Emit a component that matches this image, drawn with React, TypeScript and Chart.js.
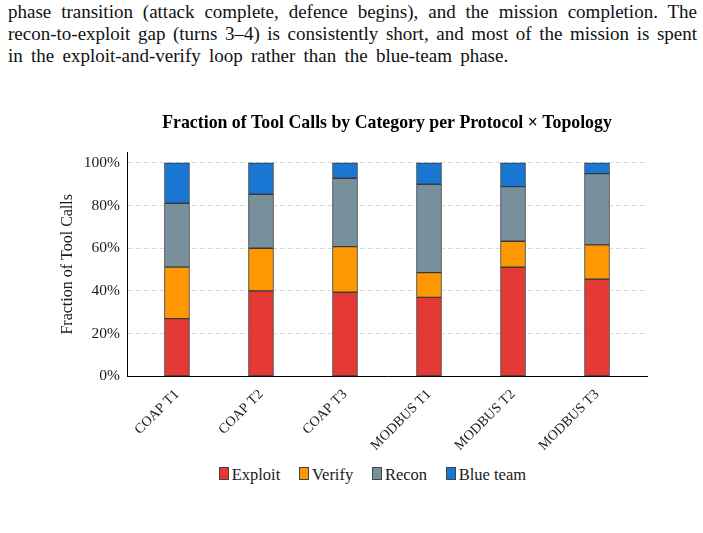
import React, { useEffect, useRef } from "react";
import { Chart, registerables } from "chart.js";

Chart.register(...registerables);

const categories = ["COAP T1", "COAP T2", "COAP T3", "MODBUS T1", "MODBUS T2", "MODBUS T3"];
const exploit = [27, 40, 39.4, 37, 51.1, 45.5];
const verify = [24.2, 20, 21.4, 11.6, 12.2, 16.1];
const recon = [29.9, 25.3, 32, 41.4, 25.6, 33.4];
const blueTeam = [18.9, 14.7, 7.2, 10, 11.1, 5];
const seriesNames = ["Exploit", "Verify", "Recon", "Blue team"];
const seriesColors = ["#E53935", "#FF9800", "#78909C", "#1976D2"];
const yTicks = [0, 20, 40, 60, 80, 100];

const paragraphLines = [
  "phase transition (attack complete, defence begins), and the mission completion. The",
  "recon-to-exploit gap (turns 3\u20134) is consistently short, and most of the mission is spent",
  "in the exploit-and-verify loop rather than the blue-team phase.",
];

const titleText = "Fraction of Tool Calls by Category per Protocol \u00d7 Topology";
const yTitle = "Fraction of Tool Calls";

const FAMILY = "'Liberation Serif', 'Times New Roman', serif";
const TEXT = "#1a1a1a";

export default function App() {
  const ref = useRef<HTMLCanvasElement>(null);

  useEffect(() => {
    const series = [exploit, verify, recon, blueTeam];
    const datasets = series.map((vals, k) => ({
      label: seriesNames[k],
      data: vals.map((v, i) => ({ x: i, y: v })),
      backgroundColor: seriesColors[k],
      borderColor: "#3a3a3a",
      borderWidth: 1,
      borderSkipped: false as const,
      barThickness: 25,
    }));
    const chart = new Chart(ref.current as HTMLCanvasElement, {
      type: "bar",
      data: { datasets } as any,
      options: {
        animation: false,
        responsive: false,
        devicePixelRatio: 1,
        layout: { padding: { left: 0, right: 56, top: 0, bottom: 0 } },
        plugins: {
          legend: { display: false },
          tooltip: { enabled: false },
          title: {
            display: true,
            text: titleText,
            fullSize: false,
            color: "#000",
            font: { family: FAMILY, size: 17.8, weight: "bold", lineHeight: 1.2 },
            padding: { top: 22.3, bottom: 18.6 },
          },
        },
        scales: {
          x: {
            type: "linear",
            min: -0.595,
            max: 5.595,
            offset: false,
            stacked: true,
            grid: { display: false, offset: false },
            border: { display: true, color: "#000", width: 1 },
            ticks: {
              autoSkip: false,
              minRotation: 45,
              maxRotation: 45,
              padding: 2,
              color: TEXT,
              font: { family: FAMILY, size: 14 },
              callback: (v: any) => categories[Number(v)] ?? "",
            },
            afterBuildTicks: (s: any) => {
              s.ticks = categories.map((_, i) => ({ value: i }));
            },
            afterFit: (s: any) => {
              s.height = 83.7;
            },
          },
          y: {
            min: 0,
            max: 105,
            stacked: true,
            grid: { color: "#d9d9d9", lineWidth: 1, drawTicks: false },
            border: { display: true, color: "#000", width: 1, dash: [5, 3] },
            ticks: {
              padding: 7,
              color: TEXT,
              font: { family: FAMILY, size: 15.5 },
              callback: (v: any) => `${v}%`,
            },
            afterBuildTicks: (s: any) => {
              s.ticks = yTicks.map((v) => ({ value: v }));
            },
            afterFit: (s: any) => {
              s.width = 127;
            },
            title: {
              display: true,
              text: yTitle,
              color: TEXT,
              font: { family: FAMILY, size: 16, lineHeight: 1.2 },
              padding: { top: 58, bottom: 0 },
            },
          },
        },
      } as any,
    });
    return () => chart.destroy();
  }, []);

  const last = paragraphLines.length - 1;

  return (
    <div
      style={{
        position: "absolute",
        left: 0,
        top: 0,
        width: 703,
        height: 533,
        overflow: "hidden",
        background: "#fff",
        fontFamily: FAMILY,
        color: "#111",
      }}
    >
      <div
        style={{
          position: "absolute",
          left: 8,
          top: 1.3,
          width: 689,
          fontSize: 19,
          lineHeight: "22px",
        }}
      >
        {paragraphLines.map((line, i) => (
          <div
            key={i}
            style={{
              textAlign: i < last ? "justify" : "left",
              textAlignLast: i < last ? "justify" : "left",
              wordSpacing: i < last ? "0px" : "3.5px",
            }}
          >
            {line}
          </div>
        ))}
      </div>
      <canvas
        ref={ref}
        width={703}
        height={370}
        style={{ position: "absolute", left: 0, top: 90, width: 703, height: 370 }}
      />
      <div
        style={{
          position: "absolute",
          left: 219,
          top: 463,
          height: 20,
          display: "flex",
          alignItems: "center",
          fontSize: 16.5,
          color: TEXT,
          whiteSpace: "nowrap",
        }}
      >
        {seriesNames.map((name, k) => (
          <div key={name} style={{ display: "flex", alignItems: "center", marginRight: 19 }}>
            <span
              style={{
                display: "inline-block",
                width: 10,
                height: 13,
                boxSizing: "border-box",
                border: "1px solid #444",
                background: seriesColors[k],
                marginRight: 2.7,
              }}
            />
            <span style={{ position: "relative", top: 1.5 }}>{name}</span>
          </div>
        ))}
      </div>
    </div>
  );
}
